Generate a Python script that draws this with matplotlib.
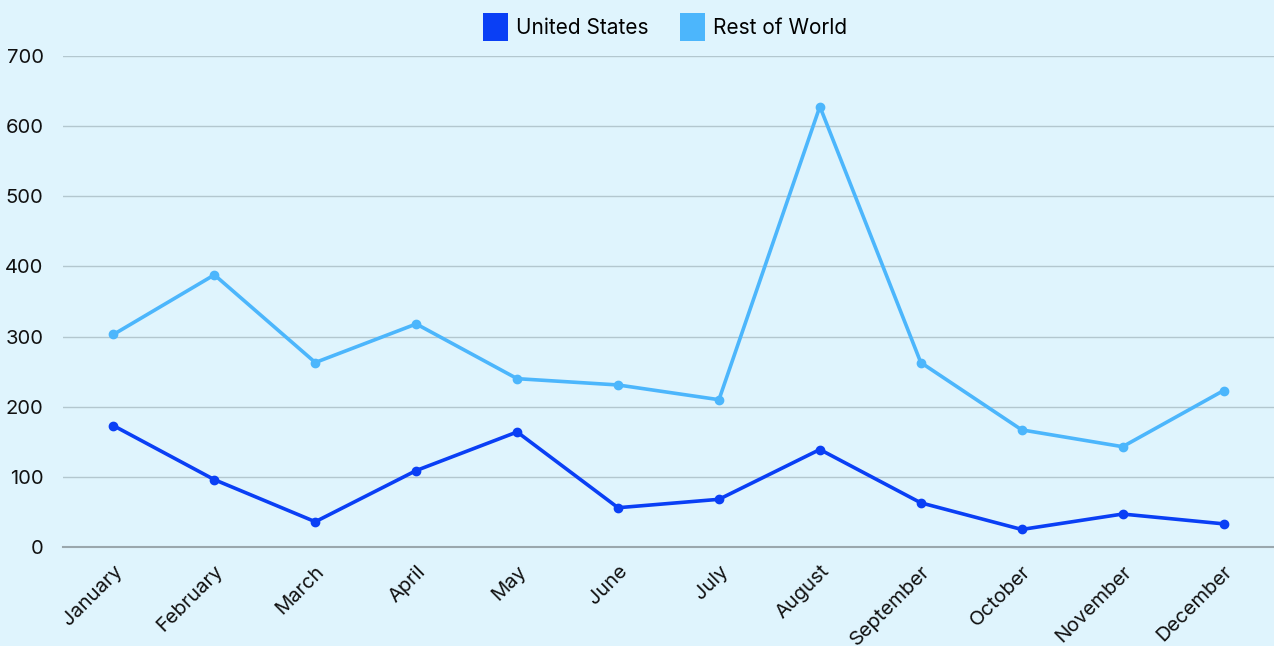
import matplotlib
matplotlib.use('Agg')
import matplotlib.pyplot as plt
from matplotlib.patches import Patch

months = ['January', 'February', 'March', 'April', 'May', 'June', 'July',
          'August', 'September', 'October', 'November', 'December']
us = [173, 96, 36, 109, 164, 56, 68, 139, 63, 25, 47, 33]
rest = [303, 388, 263, 318, 240, 231, 210, 628, 263, 167, 143, 223]
yticks = [0, 100, 200, 300, 400, 500, 600, 700]

bg = '#dff4fd'
c_us = '#0a3ff5'
c_rest = '#4cb6fc'

plt.rcParams['font.family'] = ['Inter', 'DejaVu Sans']

fig = plt.figure(figsize=(12.74, 6.46), dpi=100, facecolor=bg)
ax = fig.add_axes([63 / 1274, 1 - 547 / 646, 1 - 63 / 1274, (547 - 56) / 646])
ax.set_facecolor(bg)

x = range(len(months))
ax.plot(x, us, color=c_us, lw=2.6, marker='o', ms=6, zorder=3, clip_on=False)
ax.plot(x, rest, color=c_rest, lw=2.6, marker='o', ms=6, zorder=3, clip_on=False)

ax.set_xlim(-0.5, 11.5)
ax.set_ylim(0, 700)
ax.set_yticks(yticks)
ax.set_yticklabels([str(v) for v in yticks], fontsize=14.5, color='#111111')
ax.set_xticks(list(x))
ax.set_xticklabels(months, rotation=45, ha='right', rotation_mode='anchor',
                   fontsize=14.5, color='#111111')
ax.tick_params(axis='both', length=0)
ax.tick_params(axis='y', pad=14)
ax.tick_params(axis='x', pad=11)

ax.grid(axis='y', color='#b3c7cf', lw=1)
ax.set_axisbelow(True)
for s in ['top', 'right', 'left']:
    ax.spines[s].set_visible(False)
ax.spines['bottom'].set_color('#9aa7ad')
ax.spines['bottom'].set_linewidth(1.5)

handles = [Patch(facecolor=c_us, label='United States'),
           Patch(facecolor=c_rest, label='Rest of World')]
fig.legend(handles=handles, loc='center', bbox_to_anchor=(0.522, 1 - 27 / 646),
           ncol=2, frameon=False, fontsize=15, handlelength=1.2,
           handleheight=1.75, handletextpad=0.4, columnspacing=1.5)

fig.savefig('out.png', dpi=100, facecolor=bg)
